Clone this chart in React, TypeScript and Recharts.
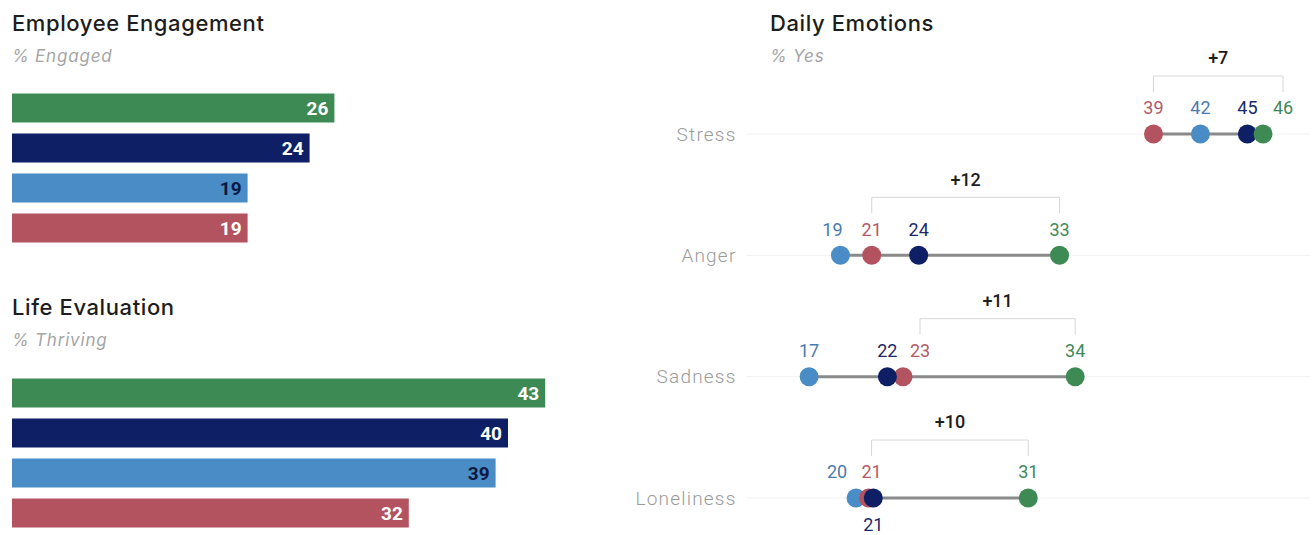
import React from "react";
import { Bar, BarChart, Cell, ComposedChart, LabelList, Line, ReferenceLine, XAxis, YAxis } from "recharts";

// four groups, drawn green / navy / light blue / red
const groups = ["g1", "g2", "g3", "g4"];
const groupColors = ["#3e8a54", "#0e1f65", "#4a8cc6", "#b3535f"];
const labelColors = ["#3f8a58", "#1b2868", "#4a7bb0", "#b25a68"];

const engaged = [26, 24, 19, 19];
const thriving = [43, 40, 39, 32];

const emotions = ["Stress", "Anger", "Sadness", "Loneliness"];
const emoG1 = [46, 33, 34, 31];
const emoG2 = [45, 24, 22, 21.1];
const emoG3 = [42, 19, 17, 20];
const emoG4 = [39, 21, 23, 20.8];

const engagedRows = groups.map((g, i) => ({ name: g, value: engaged[i] }));
const thrivingRows = groups.map((g, i) => ({ name: g, value: thriving[i] }));
const emotionRows = emotions.map((name, i) => ({
  name,
  g1: emoG1[i],
  g2: emoG2[i],
  g3: emoG3[i],
  g4: emoG4[i],
}));

// nudges for labels that would collide
const labelShift: Record<string, number> = {
  "0-g1": 20,
  "1-g3": -8,
  "2-g4": 17,
  "3-g3": -19,
  "3-g4": 3,
};
const labelBelow = ["3-g2"];

const titleStyle: React.CSSProperties = {
  position: "absolute",
  fontFamily: "Inter, sans-serif",
  fontSize: 22,
  fontWeight: 500,
  letterSpacing: 0.6,
  color: "#1d1d1d",
  whiteSpace: "nowrap",
};
const subStyle: React.CSSProperties = {
  position: "absolute",
  fontFamily: "Inter, sans-serif",
  fontSize: 17,
  fontStyle: "italic",
  letterSpacing: 0.8,
  color: "#a5a5a5",
  whiteSpace: "nowrap",
};

const BarValue = (props: any) => {
  const { x, y, width, height, value, index } = props;
  return (
    <text
      x={x + width - 6}
      y={y + height / 2}
      dy="0.36em"
      textAnchor="end"
      fontSize={19}
      fontWeight={700}
      fontFamily="Roboto, sans-serif"
      fill={index === 2 ? "#0c1a42" : "#ffffff"}
    >
      {value}
    </text>
  );
};

const HBars = ({ rows }: { rows: { name: string; value: number }[] }) => (
  <BarChart layout="vertical" width={632} height={245} data={rows} margin={{ top: 82.5, right: 0, bottom: 2.5, left: 12 }}>
    <XAxis type="number" domain={[0, 50]} hide />
    <YAxis type="category" dataKey="name" hide />
    <Bar dataKey="value" barSize={29} isAnimationActive={false}>
      {rows.map((r, i) => (
        <Cell key={r.name} fill={groupColors[i]} />
      ))}
      <LabelList dataKey="value" content={BarValue} />
    </Bar>
  </BarChart>
);

const makeDot = (g: number) => (props: any) => {
  const { cx, cy, index, value } = props;
  const key = `${index}-${groups[g]}`;
  const below = labelBelow.includes(key);
  const v = Array.isArray(value) ? value[1] : value;
  return (
    <g key={`dot-${g}-${index}`}>
      <circle cx={cx} cy={cy} r={9.5} fill={groupColors[g]} />
      <text
        x={cx + (labelShift[key] || 0)}
        y={below ? cy + 27 : cy - 26}
        dy="0.36em"
        textAnchor="middle"
        fontSize={18}
        fontFamily="Roboto, sans-serif"
        fill={labelColors[g]}
      >
        {Math.round(v)}
      </text>
    </g>
  );
};

const makeBracket = (row: number) => (props: any) => {
  const { x1, x2, y1 } = props;
  const left = x1 + (labelShift[`${row}-g4`] || 0);
  const right = x2 + (labelShift[`${row}-g1`] || 0);
  const top = y1 - 58;
  const diff = Math.round(emoG1[row]) - Math.round(emoG4[row]);
  return (
    <g>
      <path
        d={`M${left},${top + 16}V${top}H${right}V${top + 16}`}
        fill="none"
        stroke="#d6d6d6"
        strokeWidth={1}
      />
      <text
        x={(left + right) / 2}
        y={y1 - 76}
        dy="0.36em"
        textAnchor="middle"
        fontSize={18}
        fontWeight={500}
        fontFamily="Roboto, sans-serif"
        fill="#1d1d1d"
      >
        {`+${diff}`}
      </text>
    </g>
  );
};

const seriesOrder = [2, 3, 1, 0];

export default function App() {
  return (
    <div
      style={{
        position: "absolute",
        left: 0,
        top: 0,
        width: 1315,
        height: 535,
        overflow: "hidden",
        background: "#fff",
      }}
    >
      <div style={{ ...titleStyle, left: 12, top: 10 }}>Employee Engagement</div>
      <div style={{ ...subStyle, left: 12, top: 46 }}>% Engaged</div>
      <div style={{ position: "absolute", left: 0, top: 5 }}>
        <HBars rows={engagedRows} />
      </div>

      <div style={{ ...titleStyle, left: 12, top: 294 }}>Life Evaluation</div>
      <div style={{ ...subStyle, left: 12, top: 330 }}>% Thriving</div>
      <div style={{ position: "absolute", left: 0, top: 290 }}>
        <HBars rows={thrivingRows} />
      </div>

      <div style={{ ...titleStyle, left: 770, top: 10 }}>Daily Emotions</div>
      <div style={{ ...subStyle, left: 770, top: 46 }}>% Yes</div>
      <div style={{ position: "absolute", left: 600, top: 0 }}>
        <ComposedChart
          layout="vertical"
          width={715}
          height={535}
          data={emotionRows}
          margin={{ top: 134, right: 5, bottom: 37, left: 6.5 }}
        >
          <XAxis type="number" domain={[13, 49]} hide />
          <YAxis
            type="category"
            dataKey="name"
            scale="point"
            width={140}
            tickLine={false}
            axisLine={false}
            tickSize={0}
            tickMargin={10}
            tick={{ fill: "#9b9b9b", fontSize: 19, fontWeight: 300, letterSpacing: 1.2, fontFamily: "Roboto, sans-serif" }}
          />
          {emotions.map((e) => (
            <ReferenceLine key={`row-${e}`} y={e} stroke="#f1f1f1" strokeWidth={1} />
          ))}
          {emotionRows.map((r) => {
            const vals = [r.g1, r.g2, r.g3, r.g4];
            return (
              <ReferenceLine
                key={`span-${r.name}`}
                segment={[
                  { x: Math.min(...vals), y: r.name },
                  { x: Math.max(...vals), y: r.name },
                ]}
                stroke="#8a8a8a"
                strokeWidth={3}
              />
            );
          })}
          {emotionRows.map((r, i) => (
            <ReferenceLine
              key={`bracket-${r.name}`}
              segment={[
                { x: r.g4, y: r.name },
                { x: r.g1, y: r.name },
              ]}
              shape={makeBracket(i)}
            />
          ))}
          {seriesOrder.map((g) => (
            <Line
              key={groups[g]}
              dataKey={groups[g]}
              stroke="none"
              isAnimationActive={false}
              activeDot={false}
              dot={makeDot(g)}
            />
          ))}
        </ComposedChart>
      </div>
    </div>
  );
}
